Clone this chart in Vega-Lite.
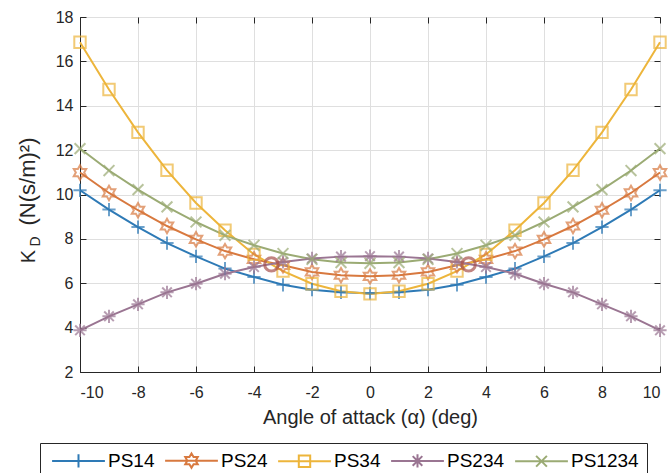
{
  "$schema": "https://vega.github.io/schema/vega-lite/v6.json",
  "width": 580,
  "height": 355,
  "autosize": {"type": "none"},
  "padding": {"left": 80, "top": 17, "right": 9, "bottom": 101},
  "background": "white",
  "config": {
    "font": "Liberation Sans",
    "view": {"stroke": "#262626", "strokeWidth": 1},
    "axis": {
      "labelFont": "Liberation Sans",
      "titleFont": "Liberation Sans",
      "labelColor": "#262626",
      "titleColor": "#262626",
      "domainColor": "#262626",
      "tickColor": "#262626",
      "gridColor": "#dfdfdf",
      "gridWidth": 1,
      "labelFontSize": 16,
      "titleFontSize": 20,
      "titleFontWeight": "normal",
      "tickSize": 6
    },
    "legend": {
      "orient": "none", "legendX": -40, "legendY": 426, "direction": "horizontal",
      "strokeColor": "#262626", "fillColor": "white", "padding": 8,
      "labelFont": "Liberation Sans", "labelFontSize": 19, "labelColor": "#000000",
      "symbolSize": 144, "symbolStrokeWidth": 2, "labelOffset": 20, "columnPadding": 6, "symbolOffset": 21,
      "symbolOpacity": 1, "symbolFillColor": "transparent", "titlePadding": 0
    }
  },
  "datasets": {
    "kd": [
      {"a": -10, "k": 10.19, "s": "PS14"}, {"a": -9, "k": 9.32, "s": "PS14"}, {"a": -8, "k": 8.53, "s": "PS14"}, {"a": -7, "k": 7.81, "s": "PS14"}, {"a": -6, "k": 7.21, "s": "PS14"}, {"a": -5, "k": 6.66, "s": "PS14"}, {"a": -4, "k": 6.28, "s": "PS14"}, {"a": -3, "k": 5.93, "s": "PS14"}, {"a": -2, "k": 5.71, "s": "PS14"}, {"a": -1, "k": 5.59, "s": "PS14"}, {"a": 0, "k": 5.55, "s": "PS14"}, {"a": 1, "k": 5.59, "s": "PS14"}, {"a": 2, "k": 5.71, "s": "PS14"}, {"a": 3, "k": 5.93, "s": "PS14"}, {"a": 4, "k": 6.28, "s": "PS14"}, {"a": 5, "k": 6.66, "s": "PS14"}, {"a": 6, "k": 7.21, "s": "PS14"}, {"a": 7, "k": 7.81, "s": "PS14"}, {"a": 8, "k": 8.53, "s": "PS14"}, {"a": 9, "k": 9.32, "s": "PS14"}, {"a": 10, "k": 10.19, "s": "PS14"},
      {"a": -10, "k": 10.99, "s": "PS24"}, {"a": -9, "k": 10.07, "s": "PS24"}, {"a": -8, "k": 9.29, "s": "PS24"}, {"a": -7, "k": 8.58, "s": "PS24"}, {"a": -6, "k": 7.98, "s": "PS24"}, {"a": -5, "k": 7.45, "s": "PS24"}, {"a": -4, "k": 7.08, "s": "PS24"}, {"a": -3, "k": 6.81, "s": "PS24"}, {"a": -2, "k": 6.51, "s": "PS24"}, {"a": -1, "k": 6.36, "s": "PS24"}, {"a": 0, "k": 6.31, "s": "PS24"}, {"a": 1, "k": 6.36, "s": "PS24"}, {"a": 2, "k": 6.51, "s": "PS24"}, {"a": 3, "k": 6.81, "s": "PS24"}, {"a": 4, "k": 7.08, "s": "PS24"}, {"a": 5, "k": 7.45, "s": "PS24"}, {"a": 6, "k": 7.98, "s": "PS24"}, {"a": 7, "k": 8.58, "s": "PS24"}, {"a": 8, "k": 9.29, "s": "PS24"}, {"a": 9, "k": 10.07, "s": "PS24"}, {"a": 10, "k": 10.99, "s": "PS24"},
      {"a": -10, "k": 16.86, "s": "PS34"}, {"a": -9, "k": 14.73, "s": "PS34"}, {"a": -8, "k": 12.8, "s": "PS34"}, {"a": -7, "k": 11.09, "s": "PS34"}, {"a": -6, "k": 9.62, "s": "PS34"}, {"a": -5, "k": 8.39, "s": "PS34"}, {"a": -4, "k": 7.3, "s": "PS34"}, {"a": -3, "k": 6.55, "s": "PS34"}, {"a": -2, "k": 5.98, "s": "PS34"}, {"a": -1, "k": 5.64, "s": "PS34"}, {"a": 0, "k": 5.52, "s": "PS34"}, {"a": 1, "k": 5.64, "s": "PS34"}, {"a": 2, "k": 5.98, "s": "PS34"}, {"a": 3, "k": 6.55, "s": "PS34"}, {"a": 4, "k": 7.3, "s": "PS34"}, {"a": 5, "k": 8.39, "s": "PS34"}, {"a": 6, "k": 9.62, "s": "PS34"}, {"a": 7, "k": 11.09, "s": "PS34"}, {"a": 8, "k": 12.8, "s": "PS34"}, {"a": 9, "k": 14.73, "s": "PS34"}, {"a": 10, "k": 16.86, "s": "PS34"},
      {"a": -10, "k": 3.88, "s": "PS234"}, {"a": -9, "k": 4.51, "s": "PS234"}, {"a": -8, "k": 5.05, "s": "PS234"}, {"a": -7, "k": 5.59, "s": "PS234"}, {"a": -6, "k": 5.98, "s": "PS234"}, {"a": -5, "k": 6.43, "s": "PS234"}, {"a": -4, "k": 6.73, "s": "PS234"}, {"a": -3, "k": 6.96, "s": "PS234"}, {"a": -2, "k": 7.12, "s": "PS234"}, {"a": -1, "k": 7.2, "s": "PS234"}, {"a": 0, "k": 7.22, "s": "PS234"}, {"a": 1, "k": 7.2, "s": "PS234"}, {"a": 2, "k": 7.12, "s": "PS234"}, {"a": 3, "k": 6.96, "s": "PS234"}, {"a": 4, "k": 6.73, "s": "PS234"}, {"a": 5, "k": 6.43, "s": "PS234"}, {"a": 6, "k": 5.98, "s": "PS234"}, {"a": 7, "k": 5.59, "s": "PS234"}, {"a": 8, "k": 5.05, "s": "PS234"}, {"a": 9, "k": 4.51, "s": "PS234"}, {"a": 10, "k": 3.88, "s": "PS234"},
      {"a": -10, "k": 12.07, "s": "PS1234"}, {"a": -9, "k": 11.08, "s": "PS1234"}, {"a": -8, "k": 10.22, "s": "PS1234"}, {"a": -7, "k": 9.44, "s": "PS1234"}, {"a": -6, "k": 8.76, "s": "PS1234"}, {"a": -5, "k": 8.16, "s": "PS1234"}, {"a": -4, "k": 7.71, "s": "PS1234"}, {"a": -3, "k": 7.34, "s": "PS1234"}, {"a": -2, "k": 7.08, "s": "PS1234"}, {"a": -1, "k": 6.93, "s": "PS1234"}, {"a": 0, "k": 6.9, "s": "PS1234"}, {"a": 1, "k": 6.93, "s": "PS1234"}, {"a": 2, "k": 7.08, "s": "PS1234"}, {"a": 3, "k": 7.34, "s": "PS1234"}, {"a": 4, "k": 7.71, "s": "PS1234"}, {"a": 5, "k": 8.16, "s": "PS1234"}, {"a": 6, "k": 8.76, "s": "PS1234"}, {"a": 7, "k": 9.44, "s": "PS1234"}, {"a": 8, "k": 10.22, "s": "PS1234"}, {"a": 9, "k": 11.08, "s": "PS1234"}, {"a": 10, "k": 12.07, "s": "PS1234"}
    ]
  },
  "data": {"name": "kd"},
  "resolve": {"axis": {"x": "independent", "y": "independent"}},
  "layer": [
    {
      "mark": {"type": "line", "strokeWidth": 2},
      "encoding": {
        "x": {"field": "a", "type": "quantitative", "scale": {"domain": [-10, 10], "nice": false, "zero": false},
          "axis": {"orient": "bottom", "values": [-10, -8, -6, -4, -2, 0, 2, 4, 6, 8, 10], "labelExpr": "'' + datum.value", "title": "Angle of attack (α) (deg)", "grid": true, "ticks": false, "labelPadding": 12, "labelBaseline": "top", "titleBaseline": "alphabetic", "titleY": 51}},
        "y": {"field": "k", "type": "quantitative", "scale": {"domain": [2, 18], "nice": false, "zero": false},
          "axis": {"orient": "left", "values": [2, 4, 6, 8, 10, 12, 14, 16, 18], "labelExpr": "'' + datum.value", "title": "(N(s/m)²)", "titleFontSize": 22, "grid": true, "ticks": false, "labelPadding": 7, "labelAlign": "right", "titleAngle": 270, "titleX": -46, "titleY": 164, "titleAlign": "center", "titleBaseline": "alphabetic"}},
        "color": {"field": "s", "type": "nominal", "title": null,
          "scale": {"domain": ["PS14", "PS24", "PS34", "PS234", "PS1234"], "range": ["#2E7AB6", "#D8793F", "#EDB53B", "#9A7592", "#9BAB74"]}
        }
      }
    },
    {
      "mark": {"type": "point", "filled": false, "opacity": 0, "strokeWidth": 2, "size": 144},
      "encoding": {
        "x": {"field": "a", "type": "quantitative", "axis": {"orient": "top", "values": [-10, -8, -6, -4, -2, 0, 2, 4, 6, 8, 10], "labels": false, "title": null, "domain": false, "grid": false, "tickSize": -6}},
        "y": {"field": "k", "type": "quantitative", "axis": {"orient": "right", "values": [2, 4, 6, 8, 10, 12, 14, 16, 18], "labels": false, "title": null, "domain": false, "grid": false, "tickSize": -6}},
        "color": {"field": "s", "type": "nominal", "title": null},
        "shape": {"field": "s", "type": "nominal", "title": null,
          "scale": {"domain": ["PS14", "PS24", "PS34", "PS234", "PS1234"], "range": [
            "M-4.4,0H4.4M0,-1.1V1.1",
            "M-4.4,0H4.4M0,-1.2L0.347,-0.6L1.039,-0.6L0.693,0L1.039,0.6L0.347,0.6L0,1.2L-0.347,0.6L-1.039,0.6L-0.693,0L-1.039,-0.6L-0.347,-0.6Z",
            "M-4.4,0H4.4M-0.95,-0.95H0.95V0.95H-0.95Z",
            "M-4.4,0H4.4M0,-1.1V1.1M-0.8,-0.8L0.8,0.8M-0.8,0.8L0.8,-0.8",
            "M-4.4,0H4.4M-0.9,-0.9L0.9,0.9M-0.9,0.9L0.9,-0.9"
          ]}
        }
      }
    },
    {
      "transform": [{"filter": "datum.s === 'PS14'"}],
      "mark": {"type": "point", "filled": false, "strokeWidth": 2, "size": 144, "color": "#2E7AB6", "shape": "M0,-1.1V1.1M-1.1,0H1.1"},
      "encoding": {
        "x": {"field": "a", "type": "quantitative", "axis": {"orient": "bottom", "values": [-10, -8, -6, -4, -2, 0, 2, 4, 6, 8, 10], "labels": false, "title": null, "domain": false, "grid": false, "tickSize": -6}},
        "y": {"field": "k", "type": "quantitative", "axis": {"orient": "left", "title": "K", "labels": false, "ticks": false, "domain": false, "grid": false, "titleAngle": 270, "titleX": -46, "titleY": 239, "titleAlign": "center", "titleBaseline": "alphabetic"}}
      }
    },
    {
      "transform": [{"filter": "datum.s === 'PS24'"}],
      "mark": {"type": "point", "filled": false, "strokeWidth": 2, "size": 144, "color": "#D8793F", "shape": "M0,-1.2L0.347,-0.6L1.039,-0.6L0.693,0L1.039,0.6L0.347,0.6L0,1.2L-0.347,0.6L-1.039,0.6L-0.693,0L-1.039,-0.6L-0.347,-0.6Z"},
      "encoding": {
        "x": {"field": "a", "type": "quantitative", "axis": null},
        "y": {"field": "k", "type": "quantitative", "axis": {"orient": "left", "values": [2, 4, 6, 8, 10, 12, 14, 16, 18], "labels": false, "title": null, "domain": false, "grid": false, "tickSize": -6}}
      }
    },
    {
      "transform": [{"filter": "datum.s === 'PS34'"}],
      "mark": {"type": "point", "filled": false, "strokeWidth": 2, "size": 144, "color": "#EDB53B", "shape": "M-0.95,-0.95H0.95V0.95H-0.95Z"},
      "encoding": {"x": {"field": "a", "type": "quantitative", "axis": null}, "y": {"field": "k", "type": "quantitative", "axis": null}}
    },
    {
      "transform": [{"filter": "datum.s === 'PS234'"}],
      "mark": {"type": "point", "filled": false, "strokeWidth": 2, "size": 144, "color": "#9A7592", "shape": "M0,-1.1V1.1M-1.1,0H1.1M-0.8,-0.8L0.8,0.8M-0.8,0.8L0.8,-0.8"},
      "encoding": {"x": {"field": "a", "type": "quantitative", "axis": null}, "y": {"field": "k", "type": "quantitative", "axis": null}}
    },
    {
      "transform": [{"filter": "datum.s === 'PS1234'"}],
      "mark": {"type": "point", "filled": false, "strokeWidth": 2, "size": 144, "color": "#9BAB74", "shape": "M-0.9,-0.9L0.9,0.9M-0.9,0.9L0.9,-0.9"},
      "encoding": {"x": {"field": "a", "type": "quantitative", "axis": null}, "y": {"field": "k", "type": "quantitative", "axis": null}}
    },
    {
      "data": {"values": [{"a": -3.4, "k": 6.85}, {"a": 3.4, "k": 6.85}]},
      "mark": {"type": "point", "shape": "circle", "filled": false, "strokeWidth": 3, "size": 180, "color": "#A8514C"},
      "encoding": {
        "x": {"field": "a", "type": "quantitative", "axis": null},
        "y": {"field": "k", "type": "quantitative", "axis": {"orient": "left", "title": "D", "labels": false, "ticks": false, "domain": false, "grid": false, "titleFontSize": 14, "titleAngle": 270, "titleX": -41, "titleY": 224, "titleAlign": "center", "titleBaseline": "alphabetic"}}
      }
    }
  ]
}
